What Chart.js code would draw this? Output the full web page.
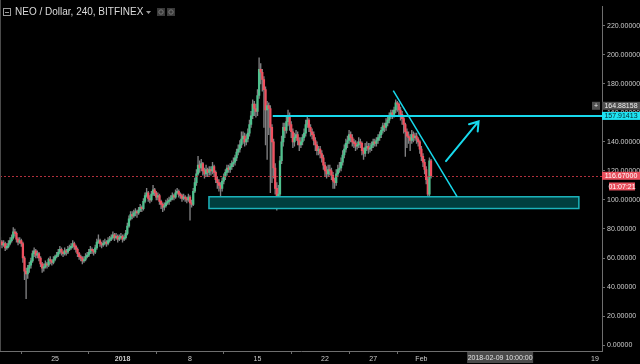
<!DOCTYPE html>
<html>
<head>
<meta charset="utf-8">
<script src="https://cdn.jsdelivr.net/npm/chart.js@4.4.1/dist/chart.umd.min.js"></script>
<style>
html, body { margin: 0; padding: 0; background: #000; }
#wrap { width: 640px; height: 364px; }
</style>
</head>
<body>
<div id="wrap"><canvas id="chart" width="640" height="364"></canvas></div>
<script>
// NEO/USD 4h candles, index 0 = Dec 19 08:00, index 268 = Feb 2 00:00
const firstOpen = 72;
const closes = [
    71, 69, 70, 67, 68, 70, 72, 74, 78, 77,
    73, 71, 72, 70, 60, 51, 49, 53, 55, 58,
    63, 65, 62, 63, 60, 56, 53, 54, 56, 55,
    59, 58, 57, 59, 61, 62, 64, 66, 64, 63,
    65, 64, 66, 67, 68, 70, 68, 66, 63, 61,
    60, 58, 59, 61, 62, 64, 66, 65, 64, 67,
    71, 72, 70, 69, 70, 71, 70, 72, 73, 74,
    76, 74, 75, 73, 74, 75, 73, 74, 77, 82,
    87, 90, 89, 91, 92, 91, 93, 95, 94, 99,
    103, 105, 101, 100, 104, 107, 105, 102, 103, 99,
    97, 95, 96, 98, 99, 100, 101, 103, 102, 105,
    106, 104, 103, 101, 102, 101, 100, 102, 98, 97,
    106, 112, 118, 124, 122, 125, 120, 118, 121, 119,
    121, 120, 123, 119, 114, 112, 110, 108, 113, 116,
    119, 122, 121, 123, 125, 126, 129, 133, 135, 138,
    142, 144, 140, 142, 146, 152, 158, 166, 163, 161,
    172, 190, 188, 183, 176, 162, 165, 163, 150, 140,
    122, 108, 98, 104, 127, 140, 150, 148, 154, 158,
    152, 147, 140, 143, 145, 141, 138, 140, 143, 146,
    152, 155, 150, 147, 145, 141, 138, 134, 135, 132,
    129, 124, 120, 118, 121, 120, 117, 113, 112, 118,
    121, 122, 126, 131, 135, 139, 141, 145, 143, 140,
    139, 137, 138, 140, 139, 134, 132, 136, 137, 135,
    136, 138, 140, 139, 141, 143, 145, 148, 151, 150,
    153, 155, 158, 160, 159, 162, 167, 166, 162, 159,
    156, 152, 147, 144, 143, 141, 145, 143, 144, 142,
    140, 135, 130, 126, 121, 114, 104, 127, 116.67
];
const highs = [
    74, 72, 72, 71, 70, 72, 74, 76, 81, 80,
    78, 74, 74, 73, 71, 61, 53, 55, 57, 60,
    65, 67, 66, 65, 64, 61, 57, 56, 58, 57,
    60, 61, 59, 61, 62, 64, 66, 68, 67, 65,
    67, 66, 68, 69, 70, 72, 71, 69, 67, 64,
    62, 61, 61, 63, 64, 66, 68, 67, 66, 69,
    73, 76, 73, 71, 72, 73, 72, 74, 75, 76,
    78, 77, 77, 76, 76, 77, 76, 76, 79, 84,
    89, 92, 92, 93, 94, 93, 95, 97, 96, 101,
    105, 108, 106, 103, 106, 110, 108, 106, 105, 104,
    100, 98, 98, 100, 101, 102, 103, 105, 104, 107,
    108, 107, 105, 104, 104, 103, 102, 104, 103, 100,
    108, 115, 121, 130, 127, 128, 126, 122, 124, 122,
    123, 123, 126, 124, 120, 116, 114, 112, 115, 118,
    121, 124, 124, 125, 127, 129, 131, 135, 138, 141,
    147, 147, 146, 145, 149, 155, 161, 169, 168, 166,
    176, 198, 194, 190, 185, 178, 168, 167, 165, 152,
    142, 125, 112, 110, 130, 144, 153, 153, 157, 162,
    160, 154, 149, 146, 148, 147, 143, 143, 145, 149,
    155, 158, 156, 152, 149, 147, 143, 140, 137, 137,
    134, 131, 126, 123, 124, 124, 122, 119, 115, 121,
    124, 126, 129, 134, 138, 142, 144, 148, 147, 145,
    142, 141, 140, 143, 142, 140, 136, 139, 140, 139,
    139, 140, 142, 142, 143, 145, 147, 150, 153, 153,
    156, 157, 160, 162, 162, 164, 169, 168, 167, 164,
    161, 158, 153, 149, 147, 145, 148, 147, 146, 146,
    143, 141, 137, 132, 128, 123, 116, 129, 128
];
const lows = [
    69, 67, 68, 65, 66, 67, 69, 71, 73, 75,
    71, 69, 70, 68, 57, 45, 32, 46, 50, 53,
    57, 61, 60, 60, 58, 54, 50, 51, 53, 53,
    54, 56, 55, 56, 58, 60, 61, 63, 62, 61,
    62, 62, 63, 65, 66, 67, 66, 64, 61, 59,
    58, 56, 57, 58, 60, 61, 63, 63, 62, 63,
    66, 70, 68, 67, 68, 69, 68, 69, 71, 72,
    73, 72, 73, 71, 72, 73, 71, 72, 73, 76,
    81, 86, 87, 88, 89, 88, 90, 92, 92, 93,
    98, 102, 99, 98, 99, 103, 103, 100, 100, 97,
    94, 92, 93, 95, 97, 97, 99, 100, 100, 101,
    104, 102, 101, 99, 100, 99, 98, 99, 86, 95,
    96, 105, 110, 117, 119, 120, 117, 115, 116, 116,
    117, 117, 118, 116, 112, 108, 106, 103, 106, 111,
    114, 117, 119, 119, 121, 123, 124, 127, 131, 133,
    136, 139, 137, 138, 140, 144, 150, 156, 158, 157,
    158, 170, 180, 175, 150, 138, 128, 145, 105, 112,
    115, 104, 93, 95, 102, 125, 137, 143, 146, 151,
    148, 143, 136, 137, 141, 138, 134, 136, 138, 141,
    144, 150, 147, 144, 142, 138, 134, 131, 131, 129,
    126, 121, 116, 115, 116, 117, 114, 108, 108, 110,
    116, 119, 120, 124, 129, 133, 136, 139, 140, 137,
    136, 134, 135, 136, 136, 131, 128, 130, 134, 132,
    133, 134, 136, 137, 137, 139, 141, 143, 146, 147,
    148, 151, 153, 156, 156, 157, 160, 161, 158, 155,
    152, 146, 130, 136, 139, 134, 139, 140, 141, 139,
    137, 132, 127, 123, 118, 111, 101, 102, 115
];
// each candle opens at the previous close
const opens = closes.map((c, i) => i ? closes[i - 1] : firstOpen);

const xTickIdx = [34, 76, 118, 160, 202, 232, 262, 370];
const xTickLabels = ['25', '2018', '8', '15', '22', '27', 'Feb', '19'];
const yTicks = [0, 20, 40, 60, 80, 100, 120, 140, 160, 180, 200, 220];

const lastPrice = 116.67;
const countdown = '01:07:21';
const rayPrice = 157.91413;
const rayStartIdx = 169.5;
const zoneIdx = [129.8, 360];
const zonePrices = [94.1, 102.2];
const trendIdx = [244.5, 284.3];
const trendPrices = [175.3, 102.2];
const arrowIdx = [277.3, 297.6];
const arrowPrices = [126.8, 154.1];
const crossIdx = 311;
const crossPrice = 164.88158;
const crossLabel = '2018-02-09 10:00:00';

const UP = '#4fc08d';
const DOWN = '#f0505f';
const CYAN = '#17d9ec';
const font = (s, b) => (b ? 'bold ' : '') + s + 'px "Liberation Sans", Arial, sans-serif';

function tag(ctx, text, x0, x1, yc, h, bg, fg) {
    ctx.fillStyle = bg;
    ctx.fillRect(x0, yc - h / 2, x1 - x0, h);
    ctx.fillStyle = fg;
    ctx.font = font(7);
    ctx.textAlign = 'center';
    ctx.textBaseline = 'middle';
    ctx.fillText(text, (x0 + x1) / 2, yc + 0.5);
}

const overlay = {
    id: 'overlay',
    afterDatasetsDraw(chart) {
        const { ctx, chartArea: a, scales: { x, y } } = chart;
        ctx.save();

        // last price line
        const ly = y.getPixelForValue(lastPrice);
        ctx.strokeStyle = 'rgba(220,60,75,0.8)';
        ctx.lineWidth = 1;
        ctx.setLineDash([2, 2]);
        ctx.beginPath();
        ctx.moveTo(a.left, Math.round(ly) + 0.5);
        ctx.lineTo(a.right, Math.round(ly) + 0.5);
        ctx.stroke();
        ctx.setLineDash([]);

        // support zone
        const zx0 = x.getPixelForValue(zoneIdx[0]), zx1 = x.getPixelForValue(zoneIdx[1]);
        const zy0 = y.getPixelForValue(zonePrices[1]), zy1 = y.getPixelForValue(zonePrices[0]);
        ctx.fillStyle = '#003f3f';
        ctx.fillRect(zx0, zy0, zx1 - zx0, zy1 - zy0);
        ctx.strokeStyle = '#1cb4bc';
        ctx.lineWidth = 1.5;
        ctx.strokeRect(zx0, zy0, zx1 - zx0, zy1 - zy0);

        // resistance ray
        ctx.strokeStyle = CYAN;
        ctx.lineWidth = 2;
        ctx.beginPath();
        ctx.moveTo(x.getPixelForValue(rayStartIdx), y.getPixelForValue(rayPrice));
        ctx.lineTo(a.right, y.getPixelForValue(rayPrice));
        ctx.stroke();

        // trend line
        ctx.lineWidth = 1.5;
        ctx.beginPath();
        ctx.moveTo(x.getPixelForValue(trendIdx[0]), y.getPixelForValue(trendPrices[0]));
        ctx.lineTo(x.getPixelForValue(trendIdx[1]), y.getPixelForValue(trendPrices[1]));
        ctx.stroke();

        // arrow
        const ax0 = x.getPixelForValue(arrowIdx[0]), ay0 = y.getPixelForValue(arrowPrices[0]);
        const ax1 = x.getPixelForValue(arrowIdx[1]), ay1 = y.getPixelForValue(arrowPrices[1]);
        const ang = Math.atan2(ay1 - ay0, ax1 - ax0);
        ctx.lineWidth = 2;
        ctx.lineCap = 'round';
        ctx.beginPath();
        ctx.moveTo(ax0, ay0);
        ctx.lineTo(ax1, ay1);
        ctx.moveTo(ax1 - 10 * Math.cos(ang - 0.6), ay1 - 10 * Math.sin(ang - 0.6));
        ctx.lineTo(ax1, ay1);
        ctx.lineTo(ax1 - 10 * Math.cos(ang + 0.6), ay1 - 10 * Math.sin(ang + 0.6));
        ctx.stroke();
        ctx.restore();
    },
    afterDraw(chart) {
        const { ctx, chartArea: a, scales: { x, y } } = chart;
        ctx.save();

        // left frame edge
        ctx.fillStyle = '#4a4a4a';
        ctx.fillRect(0, 0, 1, a.bottom);

        // title
        ctx.strokeStyle = '#9a9a9a';
        ctx.lineWidth = 1;
        ctx.strokeRect(3.5, 8.5, 7, 7);
        ctx.beginPath();
        ctx.moveTo(5, 12.5);
        ctx.lineTo(9, 12.5);
        ctx.stroke();
        ctx.fillStyle = '#dadada';
        ctx.font = font(10);
        ctx.textAlign = 'left';
        ctx.textBaseline = 'middle';
        ctx.fillText('NEO / Dollar, 240, BITFINEX', 15, 12.5);
        ctx.fillStyle = '#9a9a9a';
        ctx.beginPath();
        ctx.moveTo(146, 11);
        ctx.lineTo(151, 11);
        ctx.lineTo(148.5, 14);
        ctx.fill();
        ctx.fillStyle = '#3a3a3a';
        ctx.fillRect(157, 8, 8, 8);
        ctx.fillRect(167, 8, 8, 8);
        ctx.strokeStyle = '#777';
        ctx.beginPath();
        ctx.arc(161, 12, 2.2, 0, Math.PI * 2);
        ctx.moveTo(173.2, 12);
        ctx.arc(171, 12, 2.2, 0, Math.PI * 2);
        ctx.stroke();

        // price axis tags
        const R = 640;
        const cy = y.getPixelForValue(crossPrice);
        tag(ctx, crossPrice.toFixed(5), a.right, R, cy, 8, '#505050', '#eeeeee');
        tag(ctx, '+', a.right - 10, a.right - 2, cy, 8, '#505050', '#eeeeee');
        tag(ctx, rayPrice.toFixed(5), a.right, R, y.getPixelForValue(rayPrice), 8, '#1ee3f2', '#062a2e');
        const ly = y.getPixelForValue(lastPrice);
        tag(ctx, lastPrice.toFixed(5), a.right, R, ly, 8, '#e8505e', '#ffffff');
        tag(ctx, countdown, 609, 635, ly + 10.7, 8, '#e8505e', '#ffffff');

        // time axis crosshair tag
        const cx = x.getPixelForValue(crossIdx);
        tag(ctx, crossLabel, cx - 33, cx + 33, a.bottom + 6.5, 11, '#4a4a4a', '#e0e0e0');
        ctx.restore();
    }
};

new Chart(document.getElementById('chart'), {
    type: 'bar',
    data: {
        datasets: [{
            label: 'body',
            order: 1,
            data: closes.map((c, i) => ({ x: i, y: [opens[i], c] })),
            backgroundColor: closes.map((c, i) => c >= opens[i] ? UP : DOWN),
            barThickness: 1.6,
            minBarLength: 0.8,
            grouped: false
        }, {
            label: 'wick',
            order: 2,
            data: closes.map((c, i) => ({ x: i, y: [lows[i], highs[i]] })),
            backgroundColor: '#808082',
            barThickness: 0.7,
            grouped: false
        }]
    },
    options: {
        responsive: false,
        animation: false,
        devicePixelRatio: 1,
        layout: { padding: 0 },
        plugins: {
            legend: { display: false },
            tooltip: { enabled: false }
        },
        scales: {
            x: {
                type: 'linear',
                min: -0.25,
                max: 374.4,
                offset: false,
                afterFit: s => { s.height = 13; },
                afterBuildTicks: s => { s.ticks = xTickIdx.map(v => ({ value: v })); },
                border: { color: '#6e6e6e' },
                grid: { drawOnChartArea: false, drawTicks: true, tickLength: 3, color: '#6e6e6e' },
                ticks: {
                    autoSkip: false,
                    maxRotation: 0,
                    padding: 1,
                    color: '#cccccc',
                    font: ctx => ({ family: '"Liberation Sans", Arial, sans-serif', size: 7,
                        weight: xTickLabels[ctx.index] === '2018' ? 'bold' : 'normal' }),
                    callback: (v, i) => xTickLabels[i]
                }
            },
            y: {
                position: 'right',
                min: -4.06,
                max: 233.5,
                afterFit: s => { s.width = 38; },
                afterBuildTicks: s => { s.ticks = yTicks.map(v => ({ value: v })); },
                border: { color: '#6e6e6e' },
                grid: { drawOnChartArea: false, drawTicks: true, tickLength: 3, color: '#6e6e6e' },
                ticks: {
                    padding: 2,
                    color: '#cccccc',
                    font: { family: '"Liberation Sans", Arial, sans-serif', size: 7 },
                    callback: v => v.toFixed(5)
                }
            }
        }
    },
    plugins: [overlay]
});
</script>
</body>
</html>
